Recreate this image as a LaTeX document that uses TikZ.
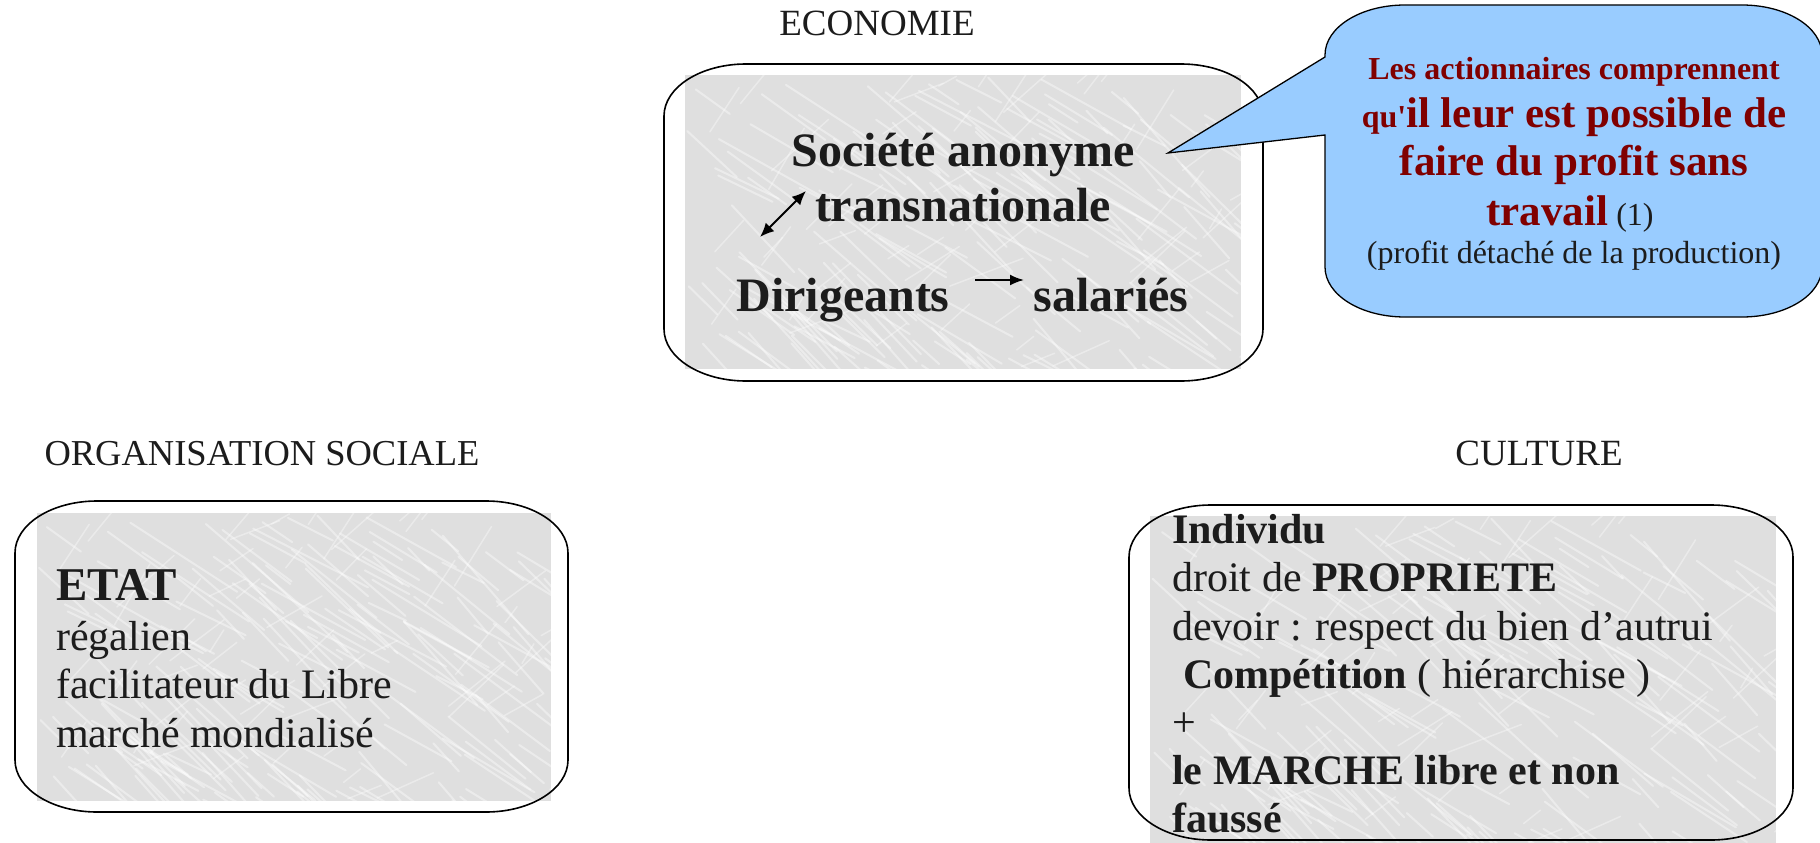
\documentclass[tikz,border=0pt]{standalone}
\usepackage{fontspec}
\setmainfont{Liberation Serif}
\usetikzlibrary{arrows.meta}
\definecolor{ink}{HTML}{1C1C1C}
\definecolor{darkred}{HTML}{800000}
\definecolor{callblue}{HTML}{99CCFF}
\definecolor{marblebase}{HTML}{DFDFDF}
\newcommand{\fs}[1]{\fontsize{#1}{#1}\selectfont}
\newcommand{\marble}[4]{%
  \begin{scope}
  \clip (#1,#2) rectangle (#3,#4);
  \fill[marblebase] (#1,#2) rectangle (#3,#4);
  \pgfmathsetseed{7}
  \foreach \k in {1,...,170}{
    \pgfmathsetmacro{\px}{#1+rnd*(#3-#1)}
    \pgfmathsetmacro{\py}{#2+rnd*(#4-#2)}
    \pgfmathsetmacro{\len}{30+rnd*110}
    \pgfmathsetmacro{\ang}{25+rnd*25}
    \draw[white, opacity=0.4, line width=2pt, line cap=round] (\px,\py) -- ++(\ang:\len);
  }
  \foreach \k in {1,...,60}{
    \pgfmathsetmacro{\px}{#1+rnd*(#3-#1)}
    \pgfmathsetmacro{\py}{#2+rnd*(#4-#2)}
    \pgfmathsetmacro{\len}{20+rnd*60}
    \pgfmathsetmacro{\ang}{-20-rnd*40}
    \draw[white, opacity=0.35, line width=1.5pt, line cap=round] (\px,\py) -- ++(\ang:\len);
  }
  \end{scope}}
\newcommand{\rbox}[7]{%
  \draw[#1] ({#2+#6},#3) -- ({#4-#6},#3)
    .. controls ({#4-0.448*#6},#3) and (#4,{#3+0.448*#7}) .. (#4,{#3+#7})
    -- (#4,{#5-#7})
    .. controls (#4,{#5-0.448*#7}) and ({#4-0.448*#6},#5) .. ({#4-#6},#5)
    -- ({#2+#6},#5)
    .. controls ({#2+0.448*#6},#5) and (#2,{#5-0.448*#7}) .. (#2,{#5-#7})
    -- (#2,{#3+#7})
    .. controls (#2,{#3+0.448*#7}) and ({#2+0.448*#6},#3) .. cycle;}
\tikzset{
  txt/.style={inner sep=0pt, text=ink, anchor=base},
  ltxt/.style={inner sep=0pt, text=ink, anchor=base west},
  outline/.style={draw=black, line width=1.6pt},
  arr/.style={draw=black, line width=2pt},
  redtxt/.style={txt, text=darkred, font=\bfseries}
}
\begin{document}
\begin{tikzpicture}[x=1pt, y=-1pt]
\useasboundingbox (0,0) rectangle (1820,843);

% section titles
\node[txt, font=\fs{37}] (econlbl) at (877,36) {ECONOMIE};
\node[txt, font=\fs{36.5}] (orglbl) at (262,465) {ORGANISATION SOCIALE};
\node[txt, font=\fs{37}] (cultlbl) at (1539,465) {CULTURE};

% ECONOMIE box
\marble{685}{75}{1241}{369}
\rbox{outline}{664}{64}{1263}{381}{82}{52}
\node[txt, font=\fs{48}\bfseries] (sa) at (963,166) {Société anonyme};
\node[txt, font=\fs{48}\bfseries] (tn) at (963,221) {transnationale};
\node[txt, font=\fs{48}\bfseries] (dir) at (843,311) {Dirigeants};
\node[txt, font=\fs{48}\bfseries] (sal) at (1111,311) {salariés};
\coordinate (da1) at (760,237);
\coordinate (da2) at (806,191);
\draw[arr, {Latex[length=14pt,width=12pt]}-{Latex[length=14pt,width=12pt]}] (da1) -- (da2);
\coordinate (ra1) at (975,280);
\coordinate (ra2) at (1024,280);
\draw[arr, -{Latex[length=14pt,width=11pt]}] (ra1) -- (ra2);

% callout
\draw[fill=callblue, draw=black, line width=1.3pt]
  (1405,5) -- (1742,5)
  .. controls (1786,5) and (1822,27) .. (1822,55)
  -- (1822,267)
  .. controls (1822,295) and (1786,317) .. (1742,317)
  -- (1405,317)
  .. controls (1361,317) and (1325,295) .. (1325,267)
  -- (1325,135) -- (1168,153) -- (1325,57)
  -- (1325,55)
  .. controls (1325,27) and (1361,5) .. cycle;
\node[redtxt, font=\fs{32}\bfseries] (c1) at (1574,80) {Les actionnaires comprennent};
\node[redtxt] (c2) at (1574,127) {{\fs{32}\addfontfeatures{Ligatures=TeXOff}qu'}{\fs{43}il leur est possible de}};
\node[redtxt, font=\fs{43}\bfseries] (c3) at (1574,175) {faire du profit sans};
\node[redtxt] (c4) at (1570,225) {{\fs{43}travail}{\fs{32}\mdseries\color{ink}\ (1)}};
\node[txt, font=\fs{32}] (c5) at (1574,263) {(profit détaché de la production)};

% ORGANISATION SOCIALE box
\marble{37}{513}{551}{801}
\rbox{outline}{15}{501}{568}{812}{82}{52}
\node[ltxt, font=\fs{47}\bfseries] (etat) at (56,600) {ETAT};
\node[ltxt, font=\fs{42}] (reg) at (56,650) {régalien};
\node[ltxt, font=\fs{42}] (fac) at (56,698) {facilitateur du Libre};
\node[ltxt, font=\fs{42}] (mm) at (56,747) {marché mondialisé};

% CULTURE box
\marble{1150}{516}{1776}{845}
\rbox{outline}{1129}{505}{1793}{840}{82}{52}
\node[ltxt, font=\fs{42}\bfseries] (ind) at (1172,543) {Individu};
\node[ltxt, font=\fs{42}] (dro) at (1172,591) {droit de \textbf{PROPRIETE}};
\node[ltxt, font=\fs{42}] (dev) at (1172,640) {devoir : respect du bien d’autrui};
\node[ltxt, font=\fs{42}] (comp) at (1183,688) {\textbf{Compétition} ( hiérarchise )};
\node[ltxt, font=\fs{42}] (plus) at (1172,736) {+};
\node[ltxt, font=\fs{42}\bfseries] (marche) at (1172,784) {le MARCHE libre et non};
\node[ltxt, font=\fs{42}\bfseries] (fau) at (1172,832) {faussé};
\end{tikzpicture}
\end{document}
